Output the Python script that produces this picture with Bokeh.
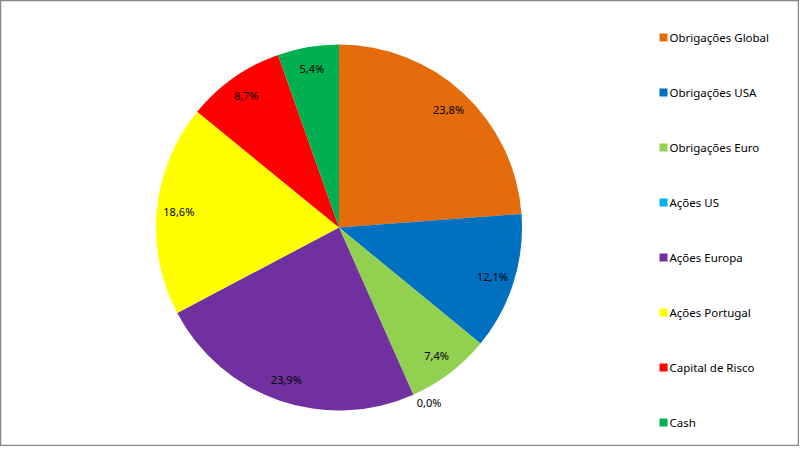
import math
from bokeh.plotting import figure
from bokeh.models import Range1d, ColumnDataSource
from bokeh.core.properties import value
from bokeh.embed import file_html
from bokeh.resources import INLINE

categories = ["Obrigações Global", "Obrigações USA", "Obrigações Euro", "Ações US",
              "Ações Europa", "Ações Portugal", "Capital de Risco", "Cash"]
shares = [23.8, 12.1, 7.4, 0.0, 23.9, 18.6, 8.7, 5.4]
labels = ["23,8%", "12,1%", "7,4%", "0,0%", "23,9%", "18,6%", "8,7%", "5,4%"]
colors = ["#E46C0A", "#0070C0", "#92D050", "#00B0F0", "#7030A0", "#FFFF00", "#FF0000", "#00B050"]

W, H = 799, 446
SCREEN_H = 454
p = figure(width=W, height=H, output_backend="svg", toolbar_location=None,
           x_range=Range1d(0, W), y_range=Range1d(SCREEN_H - H, SCREEN_H),
           min_border=0)
p.xaxis.visible = False
p.yaxis.visible = False
p.xgrid.visible = False
p.ygrid.visible = False
p.outline_line_color = "#868686"
p.outline_line_width = 1.5
p.background_fill_color = "white"
p.border_fill_color = "white"

cx, cy = 338.5, SCREEN_H - 227
R = 183
total = sum(shares)
starts, ends, lx, ly, lxo = [], [], [], [], []
cum = 0.0
for v in shares:
    a0 = math.pi / 2 - 2 * math.pi * cum / total
    cum += v
    a1 = math.pi / 2 - 2 * math.pi * cum / total
    starts.append(a0)
    ends.append(a1)
    mid = (a0 + a1) / 2
    r = 161 if v > 0 else 192
    lx.append(cx + r * math.cos(mid))
    ly.append(cy + r * math.sin(mid))
    lxo.append(0 if v > 0 else 12)

keep = [i for i, v in enumerate(shares) if v > 0]
wsrc = ColumnDataSource(dict(start=[starts[i] for i in keep], end=[ends[i] for i in keep],
                             color=[colors[i] for i in keep]))
p.wedge(x=cx, y=cy, radius=R, radius_units="screen", start_angle="start", end_angle="end",
        direction="clock", fill_color="color", line_color=None, source=wsrc)

lsrc = ColumnDataSource(dict(lx=lx, ly=ly, label=labels, xo=lxo))
p.text(x="lx", y="ly", text="label", x_offset="xo", source=lsrc, text_align="center",
       text_baseline="middle", text_font=value("Noto Sans"), text_font_size="11px",
       text_color="black")

leg_y = [SCREEN_H - (37 + 55 * i) for i in range(len(categories))]
p.scatter(x=[663] * len(categories), y=leg_y, marker="square", size=8, fill_color=colors,
          line_color=None)
p.text(x=[669] * len(categories), y=leg_y, text=categories, text_align="left",
       text_baseline="middle", text_font=value("Noto Sans"), text_font_size="11.5px",
       text_color="black")

open("out.html", "w").write(file_html(p, INLINE))
